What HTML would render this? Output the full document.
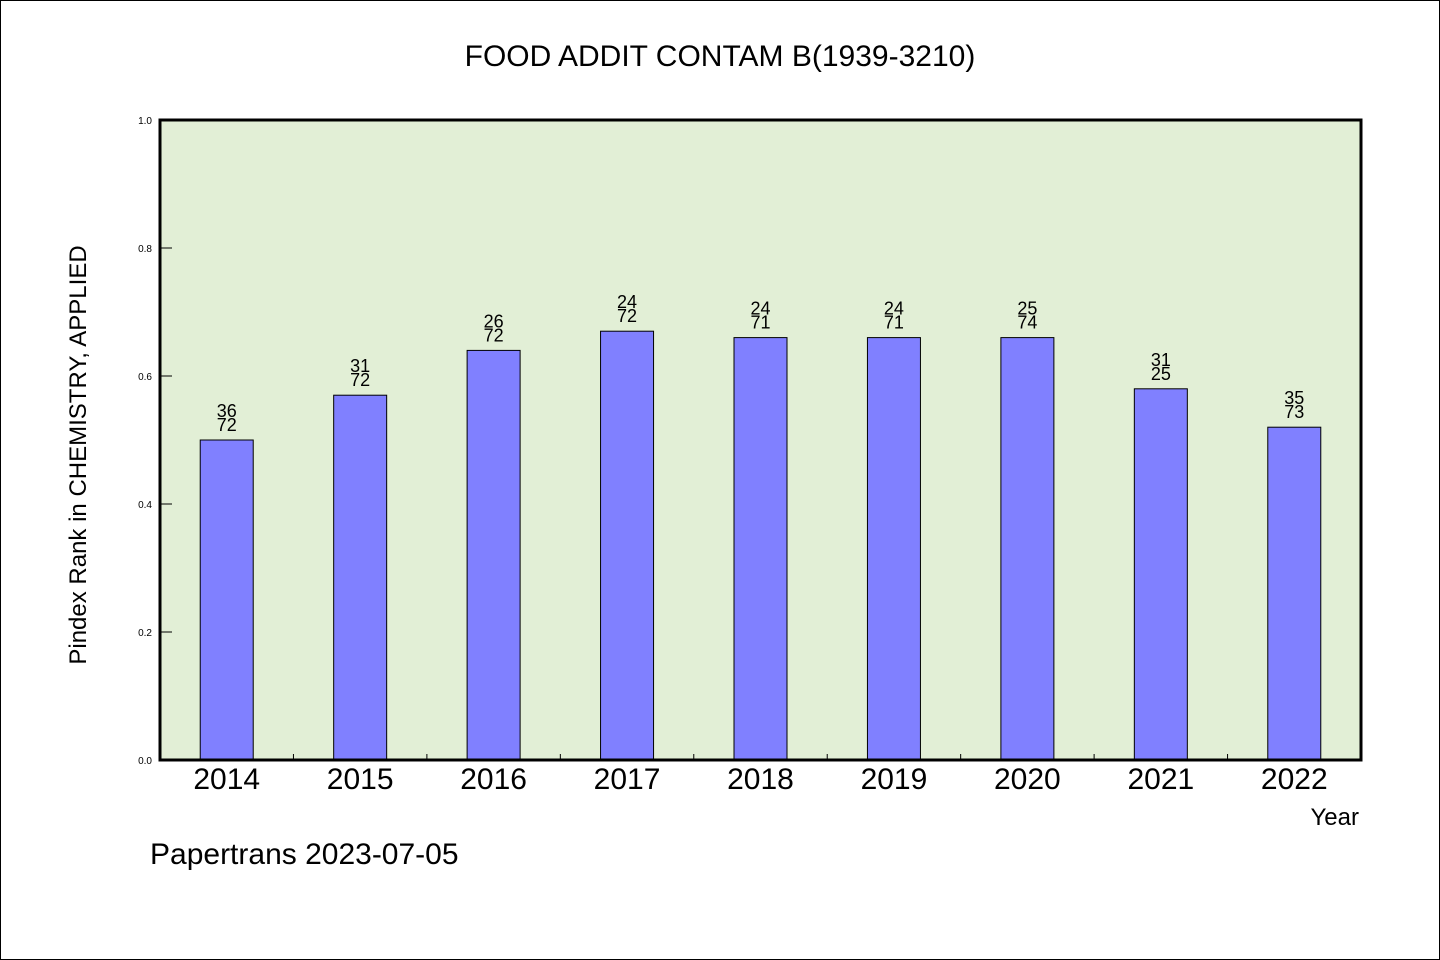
<!DOCTYPE html>
<html><head><meta charset="utf-8"><style>
html,body{margin:0;padding:0;background:#fff}
svg{display:block}
text{font-family:"WenQuanYi Zen Hei","Liberation Sans",sans-serif}
</style></head><body>
<svg id="chart" width="1440" height="960" xmlns="http://www.w3.org/2000/svg">
<rect x="0.5" y="0.5" width="1439" height="959" fill="#fff" stroke="#000"/>
<text x="720" y="66" font-size="30" text-anchor="middle">FOOD ADDIT CONTAM B(1939-3210)</text>
<rect x="160" y="120" width="1201" height="640" fill="#e2efd6"/>
<g id="bars"></g>
<g id="axes"></g>
<rect x="160" y="120" width="1201" height="640" fill="none" stroke="#000" stroke-width="3"/>
<text transform="translate(86,455) rotate(-90)" font-size="24" text-anchor="middle">Pindex Rank in CHEMISTRY, APPLIED</text>
<text x="1359" y="825" font-size="24" text-anchor="end">Year</text>
<text x="150" y="864" font-size="30">Papertrans 2023-07-05</text>
</svg>
<script>
const categories=["2014","2015","2016","2017","2018","2019","2020","2021","2022"];
const values=[0.5,0.57,0.64,0.67,0.66,0.66,0.66,0.58,0.52];
const ranks=["36","31","26","24","24","24","25","31","35"];
const totals=["72","72","72","72","71","71","74","25","73"];
const yTicks=[0,0.2,0.4,0.6,0.8,1.0];
const NS="http://www.w3.org/2000/svg";
const L=160,R=1361,T=120,B=760;
const step=(R-L)/categories.length;
const x=i=>L+step*(i+0.5);
const y=v=>B-(B-T)*v;
const bars=document.getElementById('bars'),axes=document.getElementById('axes');
function mk(tag,attrs,parent){const e=document.createElementNS(NS,tag);for(const k in attrs)e.setAttribute(k,attrs[k]);parent.appendChild(e);return e;}
categories.forEach((c,i)=>{
 const w=53;
 const r=mk('rect',{x:x(i)-w/2,y:y(values[i]),width:w,height:B-y(values[i]),fill:'#8080ff',stroke:'#000','stroke-width':1},bars);
 
 
 const t1=mk('text',{x:x(i),y:y(values[i])-23,'font-size':18,'text-anchor':'middle'},bars);
 t1.textContent=ranks[i];
 
 
 const t2=mk('text',{x:x(i),y:y(values[i])-9,'font-size':18,'text-anchor':'middle'},bars);
 t2.textContent=totals[i];
 
 
 const xl=mk('text',{x:x(i),y:789,'font-size':30,'text-anchor':'middle'},axes);
 xl.textContent=c;
 
 
 if(i>0){
  const tk=mk('line',{x1:L+step*i,x2:L+step*i,y1:B,y2:B-6,stroke:'#000'},axes);
  
  
 }
});
yTicks.forEach(v=>{
 const tk=mk('line',{x1:L,x2:L+12,y1:y(v),y2:y(v),stroke:'#000'},axes);
 
 
 const t=mk('text',{x:152,y:y(v)+4,'font-size':10,'text-anchor':'end'},axes);
 t.textContent=v.toFixed(1);
 
 
});
</script>
</body></html>
